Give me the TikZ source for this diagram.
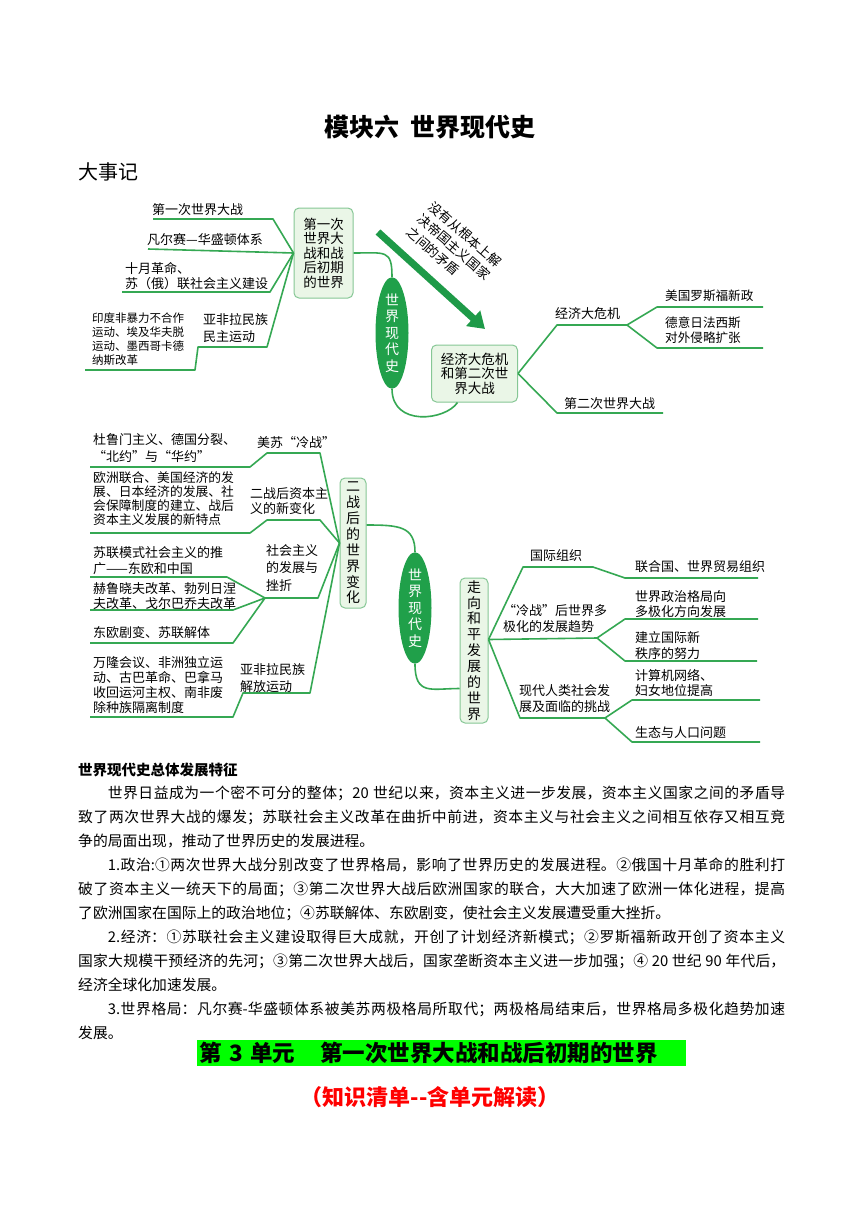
\documentclass[tikz,border=0pt]{standalone}
\usepackage{fontspec}
\setmainfont{Noto Sans CJK SC}
\usetikzlibrary{arrows.meta,shapes.geometric}
\XeTeXlinebreaklocale "zh"
\XeTeXlinebreakskip=0pt plus 1pt
\definecolor{mapgreen}{HTML}{35A853}
\definecolor{coregreen}{HTML}{20A04A}
\definecolor{boxfill}{HTML}{EAF6E7}
\definecolor{boxline}{HTML}{86C795}
\definecolor{arrowgreen}{HTML}{1E9A48}
\definecolor{bannergreen}{HTML}{00FF00}
\definecolor{subred}{HTML}{FF0000}

\begin{document}
\begin{tikzpicture}[x=1pt, y=-1pt,
    hubbox/.style={draw=boxline, line width=1pt, fill=boxfill, rounded corners=5pt, align=center, inner sep=1.5pt, font=\fontsize{13.5}{14.5}\selectfont},
    vbox/.style={hubbox, font=\fontsize{14}{15.9}\selectfont},
    core/.style={ellipse, fill=coregreen, text=white, inner sep=0pt, minimum width=33pt, minimum height=87pt, align=center, font=\fontsize{14}{16.5}\selectfont},
    branch/.style={draw=mapgreen, line width=1.6pt, line join=round},
    link/.style={draw=mapgreen, line width=1.6pt},
    lbl/.style={inner sep=0pt, align=left, font=\fontsize{13}{16.5}\selectfont},
    leaf/.style={inner sep=0pt, align=left, font=\fontsize{13}{15}\selectfont},
    bigarrow/.style={draw=arrowgreen, line width=7pt, -{Triangle[length=16pt, width=20pt]}},
]
    \fill[white] (0,0) rectangle (860,1216);
    \useasboundingbox (0,0) rectangle (860,1216);

    % ===================== heading
    \node[font=\bfseries\fontsize{25}{30}\selectfont] (title) at (430,127) {模块六\hspace{0.45em}世界现代史};
    \node[anchor=west, inner sep=0pt, font=\fontsize{20}{24}\selectfont] (events) at (78,172) {大事记};

    % ===================== map 1
    \node[hubbox, minimum width=59pt, minimum height=90pt] (box1) at (323.5,253) {第一次\\世界大\\战和战\\后初期\\的世界};
    \node[core] (core1) at (392,333) {世\\界\\现\\代\\史};
    \node[hubbox, minimum width=86pt, minimum height=57pt] (box2) at (474.5,373.5) {经济大危机\\和第二次世\\界大战};

    \node[lbl, anchor=west] (ww1) at (152,210) {第一次世界大战};
    \node[lbl, anchor=west] (vw) at (147,240) {凡尔赛—华盛顿体系};
    \node[lbl, anchor=west, font=\fontsize{13}{14.5}\selectfont] (oct) at (125,276) {十月革命、\\苏（俄）联社会主义建设};
    \node[lbl, anchor=west, font=\fontsize{13}{17}\selectfont] (aal1) at (203,328) {亚非拉民族\\民主运动};
    \node[leaf, anchor=west, font=\fontsize{11.5}{13.8}\selectfont] (aal1x) at (92,339) {印度非暴力不合作\\运动、埃及华夫脱\\运动、墨西哥卡德\\纳斯改革};

    \coordinate (p11) at (273,219); \coordinate (p12) at (153,219);
    \coordinate (p21) at (148,249);
    \coordinate (p31) at (270,292); \coordinate (p32) at (122,292);
    \coordinate (p41) at (267,347); \coordinate (p42) at (198,347); \coordinate (p43) at (195,370); \coordinate (p44) at (85,370);
    \draw[branch] (box1.west) -- (p11) -- (p12);
    \draw[branch] (box1.west) -- (p21);
    \draw[branch] (box1.west) -- (p31) -- (p32);
    \draw[branch] (box1.west) -- (p41) -- (p42) -- (p43) -- (p44);

    \draw[link] (box1.east) .. controls ([xshift=32pt]box1.east) and ([yshift=28pt]core1.north) .. (core1.north);
    \coordinate (b2foot) at ([xshift=-17pt]box2.south);
    \draw[link] (core1.south) .. controls ([yshift=-38pt]core1.south) and ([xshift=-12pt,yshift=-18pt]b2foot) .. (b2foot);

    \coordinate (arrtail) at (378,232); \coordinate (arrhead) at (485,329);
    \draw[bigarrow] (arrtail) -- (arrhead);
    \node[lbl, rotate=-41, font=\fontsize{13}{17}\selectfont] (cause) at (454,247) {没有从根本上解\\决帝国主义国家\\之间的矛盾};

    \node[lbl, anchor=west] (crisis) at (555,314) {经济大危机};
    \node[leaf, anchor=west, font=\fontsize{12.6}{15}\selectfont] (newdeal) at (665,296) {美国罗斯福新政};
    \node[leaf, anchor=west, font=\fontsize{12.6}{15}\selectfont] (fascism) at (665,330) {德意日法西斯\\对外侵略扩张};
    \node[lbl, anchor=west] (ww2) at (564,404) {第二次世界大战};
    \coordinate (q1) at (557,325); \coordinate (q2) at (627,325); \coordinate (q3) at (657,307); \coordinate (q4) at (763,307);
    \coordinate (q5) at (657,348); \coordinate (q6) at (763,348); \coordinate (q7) at (557,413); \coordinate (q8) at (663,413);
    \draw[branch] (box2.east) -- (q1) -- (q2) -- (q3) -- (q4);
    \draw[branch] (q2) -- (q5) -- (q6);
    \draw[branch] (box2.east) -- (q7) -- (q8);

    % ===================== map 2
    \node[vbox, minimum width=26pt, minimum height=130pt] (box3) at (353,543) {二\\战\\后\\的\\世\\界\\变\\化};
    \node[core] (core2) at (415,608) {世\\界\\现\\代\\史};
    \node[vbox, minimum width=28pt, minimum height=145pt] (box4) at (474,650.5) {走\\向\\和\\平\\发\\展\\的\\世\\界};

    \coordinate (b3out) at ([yshift=18pt]box3.east);
    \draw[link] (b3out) .. controls ([xshift=32pt]b3out) and ([yshift=26pt]core2.north) .. (core2.north);
    \coordinate (b4in) at ([yshift=-38pt]box4.west);
    \draw[link] (core2.south) .. controls ([yshift=-32pt]core2.south) and ([xshift=-28pt]b4in) .. (b4in);

    \node[lbl, anchor=west] (cold) at (257,443) {美苏“冷战”};
    \node[leaf, anchor=west, font=\fontsize{13}{17}\selectfont] (coldx) at (93,448.5) {杜鲁门主义、德国分裂、\\“北约”与“华约”};
    \node[lbl, anchor=west, font=\fontsize{13}{15.5}\selectfont] (capital) at (250,501) {二战后资本主\\义的新变化};
    \node[leaf, anchor=west, font=\fontsize{12.8}{13.9}\selectfont] (capitalx) at (93,498.5) {欧洲联合、美国经济的发\\展、日本经济的发展、社\\会保障制度的建立、战后\\资本主义发展的新特点};
    \node[lbl, anchor=west, font=\fontsize{13}{17.5}\selectfont] (social) at (266,568) {社会主义\\的发展与\\挫折};
    \node[leaf, anchor=west, font=\fontsize{13}{16}\selectfont] (socialx1) at (93,561) {苏联模式社会主义的推\\广——东欧和中国};
    \node[leaf, anchor=west, font=\fontsize{13}{14.5}\selectfont] (socialx2) at (93,596) {赫鲁晓夫改革、勃列日涅\\夫改革、戈尔巴乔夫改革};
    \node[leaf, anchor=west] (socialx3) at (93,633) {东欧剧变、苏联解体};
    \node[lbl, anchor=west, font=\fontsize{13}{16.5}\selectfont] (aal2) at (240,678) {亚非拉民族\\解放运动};
    \node[leaf, anchor=west, font=\fontsize{13}{15.3}\selectfont] (aal2x) at (93,685) {万隆会议、非洲独立运\\动、古巴革命、巴拿马\\收回运河主权、南非废\\除种族隔离制度};

    \coordinate (r11) at (320,453); \coordinate (r12) at (267,453); \coordinate (r13) at (250,467); \coordinate (r14) at (90,467);
    \coordinate (r21) at (320,520); \coordinate (r22) at (267,520); \coordinate (r23) at (250,533); \coordinate (r24) at (90,533);
    \coordinate (r31) at (318,598); \coordinate (r32) at (265,598);
    \coordinate (r33) at (227,577); \coordinate (r34) at (90,577);
    \coordinate (r35) at (233,610); \coordinate (r36) at (90,610);
    \coordinate (r37) at (233,643); \coordinate (r38) at (90,643);
    \coordinate (r41) at (310,693); \coordinate (r42) at (243,693); \coordinate (r43) at (233,717); \coordinate (r44) at (90,717);
    \draw[branch] (box3.west) -- (r11) -- (r12) -- (r13) -- (r14);
    \draw[branch] (box3.west) -- (r21) -- (r22) -- (r23) -- (r24);
    \draw[branch] (box3.west) -- (r31) -- (r32) -- (r33) -- (r34);
    \draw[branch] (r32) -- (r35) -- (r36);
    \draw[branch] (r32) -- (r37) -- (r38);
    \draw[branch] (box3.west) -- (r41) -- (r42) -- (r43) -- (r44);

    \coordinate (hub4) at ([yshift=11pt]box4.east);
    \node[lbl, anchor=west] (intl) at (530,556) {国际组织};
    \node[leaf, anchor=west] (intlx) at (635,567) {联合国、世界贸易组织};
    \node[lbl, anchor=west, font=\fontsize{13}{16}\selectfont] (multi) at (503,619) {“冷战”后世界多\\极化的发展趋势};
    \node[leaf, anchor=west, font=\fontsize{13}{15.5}\selectfont] (multix1) at (635,604) {世界政治格局向\\多极化方向发展};
    \node[leaf, anchor=west, font=\fontsize{13}{16}\selectfont] (multix2) at (635,646) {建立国际新\\秩序的努力};
    \node[lbl, anchor=west, font=\fontsize{13}{16}\selectfont] (modern) at (519,699) {现代人类社会发\\展及面临的挑战};
    \node[leaf, anchor=west, font=\fontsize{13}{15.5}\selectfont] (modernx1) at (635,683) {计算机网络、\\妇女地位提高};
    \node[leaf, anchor=west] (modernx2) at (635,733) {生态与人口问题};

    \coordinate (s11) at (523,567); \coordinate (s12) at (593,567); \coordinate (s13) at (625,578); \coordinate (s14) at (758,578);
    \coordinate (s21) at (597,638); \coordinate (s22) at (625,619); \coordinate (s23) at (758,619); \coordinate (s24) at (625,661); \coordinate (s25) at (757,661);
    \coordinate (s31) at (520,718); \coordinate (s32) at (605,718); \coordinate (s33) at (632,700); \coordinate (s34) at (760,700);
    \coordinate (s35) at (632,742); \coordinate (s36) at (760,742);
    \draw[branch] (hub4) -- (s11) -- (s12) -- (s13) -- (s14);
    \draw[branch] (hub4) -- (s21) -- (s22) -- (s23);
    \draw[branch] (s21) -- (s24) -- (s25);
    \draw[branch] (hub4) -- (s31) -- (s32) -- (s33) -- (s34);
    \draw[branch] (s32) -- (s35) -- (s36);

    % ===================== text part
    \node[anchor=west, inner sep=0pt, font=\bfseries\fontsize{14.5}{17}\selectfont] (feature) at (78,770) {世界现代史总体发展特征};
    \node[anchor=north west, inner sep=0pt, text width=707pt, align=justify, font=\fontsize{14.8}{24}\selectfont] (body) at (78,786) {%
\hspace*{2em}世界日益成为一个密不可分的整体；20 世纪以来，资本主义进一步发展，资本主义国家之间的矛盾导\linebreak 致了两次世界大战的爆发；苏联社会主义改革在曲折中前进，资本主义与社会主义之间相互依存又相互竞\linebreak 争的局面出现，推动了世界历史的发展进程。\par
\hspace*{2em}1.政治:①两次世界大战分别改变了世界格局，影响了世界历史的发展进程。②俄国十月革命的胜利打\linebreak 破了资本主义一统天下的局面；③第二次世界大战后欧洲国家的联合，大大加速了欧洲一体化进程，提高\linebreak 了欧洲国家在国际上的政治地位；④苏联解体、东欧剧变，使社会主义发展遭受重大挫折。\par
\hspace*{2em}2.经济：①苏联社会主义建设取得巨大成就，开创了计划经济新模式；②罗斯福新政开创了资本主义\linebreak 国家大规模干预经济的先河；③第二次世界大战后，国家垄断资本主义进一步加强；④ 20 世纪 90 年代后，\linebreak 经济全球化加速发展。\par
\hspace*{2em}3.世界格局：凡尔赛-华盛顿体系被美苏两极格局所取代；两极格局结束后，世界格局多极化趋势加速\linebreak 发展。};

    \node[anchor=west, fill=bannergreen, minimum height=26pt, text width=485pt, inner xsep=2pt, inner ysep=0pt, align=left, font=\bfseries\fontsize{22.5}{26}\selectfont] (unit) at (197,1053) {第 3 单元\hspace{1.1em}第一次世界大战和战后初期的世界};
    \node[text=subred, font=\bfseries\fontsize{22}{26}\selectfont] (sub) at (430,1097) {（知识清单-{}-含单元解读）};
\end{tikzpicture}
\end{document}
